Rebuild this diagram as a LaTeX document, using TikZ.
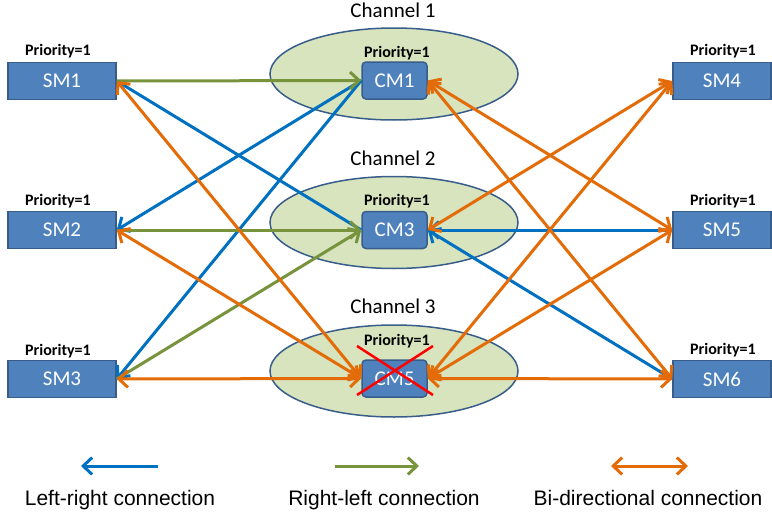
\documentclass[tikz,border=0pt]{standalone}
\usepackage{fontspec}
\setmainfont{Carlito}
\newfontfamily\legendfont{Liberation Sans}
\usetikzlibrary{arrows.meta,shapes.geometric}
\definecolor{boxfill}{HTML}{4F81BD}
\definecolor{boxline}{HTML}{385D8A}
\definecolor{chfill}{HTML}{D7E4BD}
\definecolor{lrblue}{HTML}{0070C0}
\definecolor{rlgreen}{HTML}{77933C}
\definecolor{biorange}{HTML}{E36C09}
\begin{document}
\begin{tikzpicture}[x=1pt,y=-1pt,
  >={Straight Barb[length=9pt,width=17pt]},
  smbox/.style={draw=boxline, fill=boxfill, line width=1.5pt, minimum width=108pt,
    minimum height=37pt, inner sep=0pt, text=white, font=\fontsize{21}{21}\selectfont},
  cmbox/.style={smbox, rounded corners=4pt, minimum width=65pt},
  chan/.style={ellipse, draw=boxline, fill=chfill, line width=1.5pt,
    minimum width=248pt, minimum height=92pt, inner sep=0pt},
  chlabel/.style={anchor=base, inner sep=0pt, font=\fontsize{21}{21}\selectfont},
  prio/.style={anchor=base, inner sep=0pt, font=\fontsize{16}{16}\selectfont\bfseries},
  conn/.style={line width=3pt},
  lr/.style={conn, draw=lrblue},
  rl/.style={conn, draw=rlgreen},
  bi/.style={conn, draw=biorange, <->},
  legend/.style={anchor=base, inner sep=0pt, font=\legendfont\fontsize{21}{21}\selectfont}]
\useasboundingbox (0,0) rectangle (772,514);

% channels
\node[chan] (ch1) at (394,74) {};
\node[chan] (ch2) at (394,222.5) {};
\node[chan] (ch3) at (394,371) {};
\node[chlabel] (cl1) at (393,17) {Channel 1};
\node[chlabel] (cl2) at (393,165) {Channel 2};
\node[chlabel] (cl3) at (393,313) {Channel 3};

% channel modules
\node[cmbox] (cm1) at (394.5,80.5) {CM1};
\node[cmbox] (cm3) at (394.5,230) {CM3};
\node[cmbox] (cm5) at (394.5,378.5) {CM5};

% station modules
\node[smbox] (sm1) at (62,81) {SM1};
\node[smbox] (sm2) at (62,230) {SM2};
\node[smbox] (sm3) at (62,379) {SM3};
\node[smbox, minimum width=98pt] (sm4) at (722,81) {SM4};
\node[smbox, minimum width=98pt] (sm5) at (722,230) {SM5};
\node[smbox, minimum width=98pt] (sm6) at (722,379) {SM6};

% priorities
\node[prio] (psm1) at (58,55) {Priority=1};
\node[prio] (psm2) at (58,205) {Priority=1};
\node[prio] (psm3) at (58,355) {Priority=1};
\node[prio] (psm4) at (723,55) {Priority=1};
\node[prio] (psm5) at (723,205) {Priority=1};
\node[prio] (psm6) at (723,354) {Priority=1};
\node[prio] (pcm1) at (397,57) {Priority=1};
\node[prio] (pcm3) at (397,205) {Priority=1};
\node[prio] (pcm5) at (397,345) {Priority=1};

% left side connections
\draw[lr] (cm3.west) -- (sm1.east);
\draw[lr, ->] (cm1.west) -- (sm2.east);
\draw[lr, ->] (cm1.west) -- (sm3.east);
\draw[rl, ->] (sm1.east) -- (cm1.west);
\draw[rl, ->] (sm2.east) -- (cm3.west);
\draw[rl, ->] (sm3.east) -- (cm3.west);
\draw[bi] (sm1.east) -- (cm5.west);
\draw[bi] (sm2.east) -- (cm5.west);
\draw[bi] (sm3.east) -- (cm5.west);

% right side connections
\draw[lr, ->] (sm5.west) -- (cm3.east);
\draw[lr, ->] (sm6.west) -- (cm3.east);
\draw[bi] (cm1.east) -- (sm5.west);
\draw[bi] (cm1.east) -- (sm6.west);
\draw[bi] (cm3.east) -- (sm4.west);
\draw[bi] (cm5.east) -- (sm4.west);
\draw[bi] (cm5.east) -- (sm5.west);
\draw[bi] (cm5.east) -- (sm6.west);

% failed module
\draw[red, line width=2.5pt] (357,346) -- (433,395) (433,346) -- (357,395);

% legend
\coordinate (lgb1) at (158,466);
\coordinate (lgb2) at (81,466);
\coordinate (lgg1) at (335,466);
\coordinate (lgg2) at (419,466);
\coordinate (lgo1) at (611,466);
\coordinate (lgo2) at (688,466);
\draw[lr, ->] (lgb1) -- (lgb2);
\draw[rl, ->] (lgg1) -- (lgg2);
\draw[bi] (lgo1) -- (lgo2);
\node[legend] (lt1) at (120,505) {Left-right connection};
\node[legend] (lt2) at (384,505) {Right-left connection};
\node[legend] (lt3) at (648,505) {Bi-directional connection};
\end{tikzpicture}
\end{document}
